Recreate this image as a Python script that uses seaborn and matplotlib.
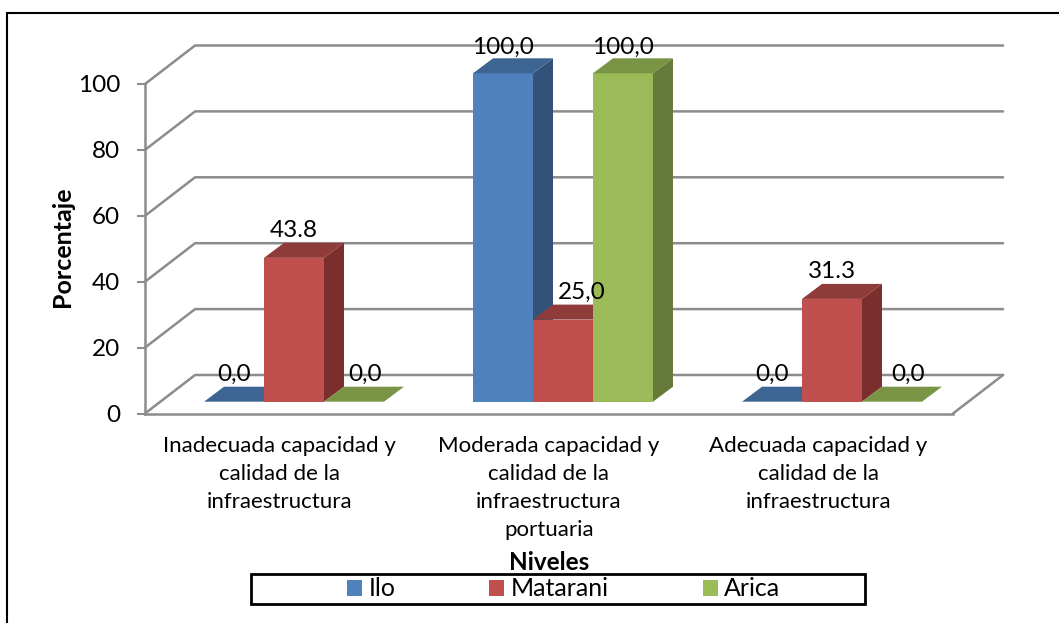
import matplotlib
matplotlib.use("Agg")
import matplotlib.pyplot as plt
from matplotlib.patches import Polygon, Rectangle
from matplotlib.lines import Line2D
import pandas as pd
import seaborn as sns

W, H = 1059, 623

niveles = [
    "Inadecuada capacidad y\ncalidad de la\ninfraestructura",
    "Moderada capacidad y\ncalidad de la\ninfraestructura\nportuaria",
    "Adecuada capacidad y\ncalidad de la\ninfraestructura",
]
puertos = ["Ilo", "Matarani", "Arica"]
ilo = [0.0, 100.0, 0.0]
matarani = [43.8, 25.0, 31.3]
arica = [0.0, 100.0, 0.0]
etiquetas = {
    "Ilo": ["0,0", "100,0", "0,0"],
    "Matarani": ["43.8", "25,0", "31.3"],
    "Arica": ["0,0", "100,0", "0,0"],
}
colores_frente = ["#4F81BD", "#C0504D", "#9BBB59"]
colores_tapa = ["#3D6594", "#8F3B39", "#7A9445"]
colores_lado = ["#32527A", "#7A2F2D", "#667A3A"]
GRIS = "#8C8C8C"
FUENTE = "Lato"

df = pd.DataFrame({
    "Nivel": niveles * 3,
    "Puerto": [p for p in puertos for _ in niveles],
    "Porcentaje": ilo + matarani + arica,
})

sns.set_theme(style="white")
plt.rcParams["font.family"] = [FUENTE, "DejaVu Sans"]
fig = plt.figure(figsize=(W / 100, H / 100), dpi=100, facecolor="white")


def caja(x0, y_top, x1, y_bot):
    return [x0 / W, 1 - y_bot / H, (x1 - x0) / W, (y_bot - y_top) / H]


# Outer chart frame: top and left edges only reach the canvas
fig.add_artist(Line2D([6.5 / W, 1.0], [1 - 13 / H, 1 - 13 / H], color="black", linewidth=1.5))
fig.add_artist(Line2D([6.5 / W, 6.5 / W], [0, 1 - 13 / H], color="black", linewidth=1.5))

# Back walls, floor and value axis
pared = fig.add_axes(caja(145, 84, 953, 413.5), facecolor="none")
pared.set_xlim(-0.5, 2.5)
pared.set_ylim(0, 100)
fondo_dx = 50 / 269
fondo_dy = 38.5 / 329.5 * 100
for v in range(0, 101, 20):
    pared.plot([-0.5, -0.5 + fondo_dx, 2.5 + fondo_dx],
               [v, v + fondo_dy, v + fondo_dy],
               color=GRIS, lw=1.8, clip_on=False, zorder=1)
pared.plot([2.5, 2.5 + fondo_dx], [0, fondo_dy], color=GRIS, lw=1.8, clip_on=False, zorder=1)
sns.despine(ax=pared, right=True, top=True)
for lado in ("left", "bottom"):
    pared.spines[lado].set_color(GRIS)
    pared.spines[lado].set_linewidth(1.8)
pared.set_yticks(range(0, 101, 20))
pared.tick_params(axis="y", length=6, width=1.5, color=GRIS, labelsize=17.5, pad=12,
                  left=True, labelcolor="black")
pared.set_xticks(range(3))
pared.set_xticklabels(niveles, fontsize=16, linespacing=1.5, color="black")
pared.tick_params(axis="x", length=0, pad=16)
pared.set_ylabel("Porcentaje", fontsize=18, fontweight="bold", color="black")
pared.yaxis.set_label_coords((74 - 145) / 808, 0.505)
pared.set_xlabel("Niveles", fontsize=17.5, fontweight="bold", color="black", va="center")
pared.xaxis.set_label_coords(0.5, (413.5 - 563) / 329.5)

# Bars on the plane in front of the walls
barras = fig.add_axes(caja(159.5, 73.3, 966.5, 401.7), facecolor="none")
sns.barplot(data=df, x="Nivel", y="Porcentaje", hue="Puerto", hue_order=puertos,
            palette=colores_frente, saturation=1, width=0.669, legend=False,
            linewidth=0, edgecolor="none", ax=barras)
barras.set_xlim(-0.5, 2.5)
barras.set_ylim(0, 100)
barras.axis("off")

prof_dx = 20 / 269
prof_dy = 15 / 328.4 * 100
for i, contenedor in enumerate(barras.containers):
    for rect in contenedor:
        rect.set_zorder(3 + i)
        x0, ancho, alto = rect.get_x(), rect.get_width(), rect.get_height()
        x1 = x0 + ancho
        barras.add_patch(Polygon(
            [(x0, alto), (x1, alto), (x1 + prof_dx, alto + prof_dy), (x0 + prof_dx, alto + prof_dy)],
            facecolor=colores_tapa[i], edgecolor="none", clip_on=False, zorder=3 + i))
        barras.add_patch(Polygon(
            [(x1, 0), (x1 + prof_dx, prof_dy), (x1 + prof_dx, alto + prof_dy), (x1, alto)],
            facecolor=colores_lado[i], edgecolor="none", clip_on=False, zorder=3 + i))

# Value labels, nudged where a neighbouring bar would cover them
desplazamientos = {
    "Ilo": [0, 0, 0],
    "Matarani": [0, 19, 0],
    "Arica": [11, 0, 16],
}
for i, contenedor in enumerate(barras.containers):
    p = puertos[i]
    for j, rect in enumerate(contenedor):
        alto = rect.get_height()
        barras.annotate(etiquetas[p][j],
                        (rect.get_x() + rect.get_width() / 2, alto),
                        xytext=(desplazamientos[p][j] * 0.72, 18.5 if alto == 100 else 19.5),
                        textcoords="offset points", ha="center", va="center",
                        fontsize=17.5, color="black", annotation_clip=False, zorder=10)

# Legend box and entries
fig.add_artist(Rectangle((250.5 / W, 1 - 603.5 / H), 614 / W, 29.5 / H,
                         transform=fig.transFigure, facecolor="white",
                         edgecolor="black", linewidth=2, zorder=5))
manijas = [Rectangle((0, 0), 1, 1, facecolor=c, edgecolor="none") for c in colores_frente]
leyenda = fig.legend(manijas, puertos, ncol=3, frameon=False, loc="center",
                     bbox_to_anchor=(563.5 / W, 1 - 589 / H), fontsize=18,
                     handlelength=0.6, handleheight=0.6, handletextpad=0.25,
                     columnspacing=3.76, borderpad=0, labelcolor="black")
leyenda.set_zorder(6)

fig.savefig("out.png", dpi=100, facecolor="white")
